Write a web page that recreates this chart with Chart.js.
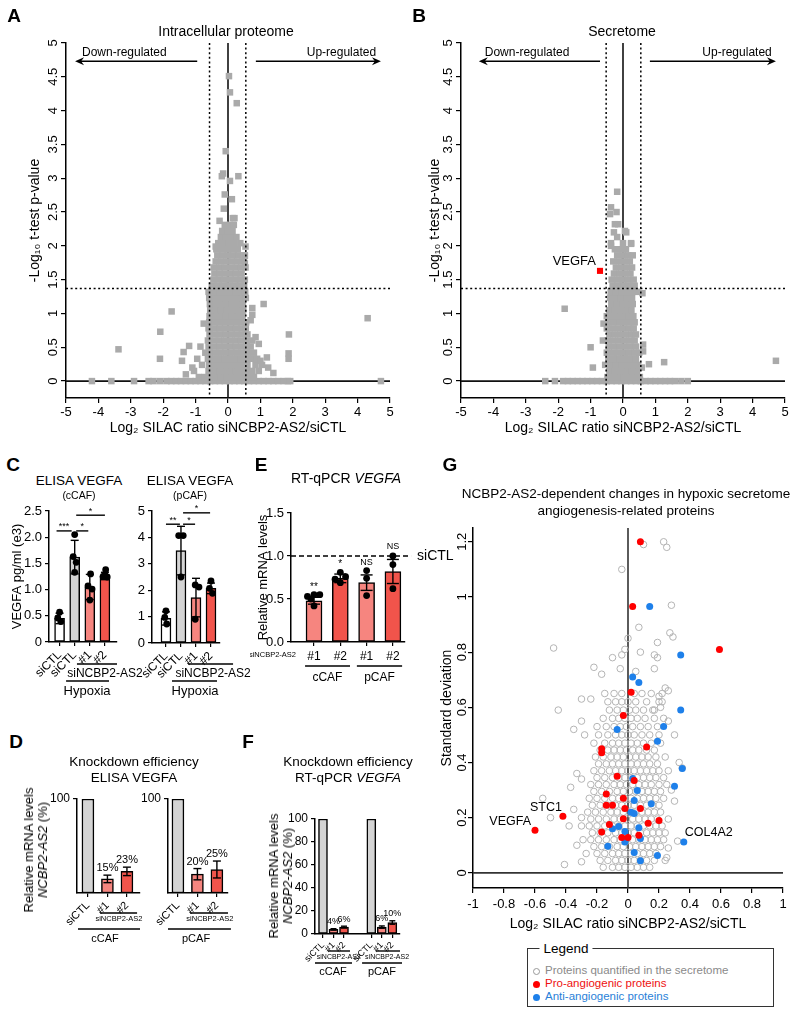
<!DOCTYPE html>
<html>
<head>
<meta charset="utf-8">
<script src="https://cdn.jsdelivr.net/npm/chart.js@4.4.1/dist/chart.umd.min.js"></script>
<style>
body { margin: 0; background: #fff; }
#fig { position: relative; width: 800px; height: 1016px; overflow: hidden; font-family: "Liberation Sans", Arial, sans-serif; color: #000; background: #fff; }
canvas { position: absolute; }
.t { position: absolute; white-space: nowrap; transform: translate(-50%, -50%); text-align: center; line-height: 16px; font-size: 13.5px; }
.L { font-weight: bold; font-size: 19px; }
.rot { transform: translate(-50%, -50%) rotate(-90deg); font-size: 13px; line-height: 14px; }
.leg { position: absolute; left: 533px; font-size: 11.5px; line-height: 13px; white-space: nowrap; }
.mk { display: inline-block; width: 7px; height: 7px; border-radius: 50%; margin-right: 5px; vertical-align: -0.5px; box-sizing: border-box; }
</style>
</head>
<body>
<div id="fig">
  <canvas id="cA" width="400" height="440" style="left:0;top:0"></canvas>
  <canvas id="cB" width="400" height="440" style="left:400px;top:0"></canvas>
  <canvas id="cC1" width="150" height="200" style="left:0;top:500px"></canvas>
  <canvas id="cC2" width="150" height="200" style="left:110px;top:500px"></canvas>
  <canvas id="cE" width="210" height="200" style="left:250px;top:500px"></canvas>
  <canvas id="cD1" width="150" height="175" style="left:0;top:780px"></canvas>
  <canvas id="cD2" width="150" height="175" style="left:100px;top:780px"></canvas>
  <canvas id="cF" width="170" height="200" style="left:260px;top:780px"></canvas>
  <canvas id="cG" width="370" height="460" style="left:430px;top:480px"></canvas>

  <div class="t L" style="left:14px;top:16px">A</div>
  <div class="t L" style="left:419px;top:16px">B</div>
  <div class="t L" style="left:13px;top:465px">C</div>
  <div class="t L" style="left:261px;top:465px">E</div>
  <div class="t L" style="left:450px;top:465px">G</div>
  <div class="t L" style="left:16px;top:742px">D</div>
  <div class="t L" style="left:248px;top:742px">F</div>

  <div class="t" style="left:226px;top:31px;font-size:14px">Intracellular proteome</div>
  <div class="t" style="left:622px;top:31px;font-size:14px">Secretome</div>
  <div class="t" style="left:79px;top:481px">ELISA VEGFA</div>
  <div class="t" style="left:79px;top:495px;font-size:10.5px">(cCAF)</div>
  <div class="t" style="left:190px;top:481px">ELISA VEGFA</div>
  <div class="t" style="left:190px;top:495px;font-size:10.5px">(pCAF)</div>
  <div class="t" style="left:346px;top:478px;font-size:14px">RT-qPCR <i>VEGFA</i></div>
  <div class="t" style="left:134px;top:770px">Knockdown efficiency<br>ELISA VEGFA</div>
  <div class="t" style="left:348px;top:770px">Knockdown efficiency<br>RT-qPCR <i>VEGFA</i></div>
  <div class="t" style="left:626px;top:502px;font-size:13.5px;line-height:17px">NCBP2-AS2-dependent changes in hypoxic secretome<br>angiogenesis-related proteins</div>
  <div class="t rot" style="left:36px;top:850px">Relative mRNA levels<br><i>NCBP2-AS2</i> (%)</div>
  <div class="t rot" style="left:281px;top:876px">Relative mRNA levels<br><i>NCBP2-AS2</i> (%)</div>

  <div style="position:absolute;left:527px;top:948px;width:247px;height:59px;border:1.5px solid #333;box-sizing:border-box"></div>
  <div class="t" style="left:566px;top:949px;font-size:13.5px;background:#fff;padding:0 4px">Legend</div>
  <div class="leg" style="top:964px;color:#8a8a8a"><span class="mk" style="border:1px solid #999"></span>Proteins quantified in the secretome</div>
  <div class="leg" style="top:977px;color:#ee1111"><span class="mk" style="background:#ff0000"></span>Pro-angiogenic proteins</div>
  <div class="leg" style="top:990px;color:#2a7fd8"><span class="mk" style="background:#1e80ea"></span>Anti-angiogenic proteins</div>
</div>

<script>
// ---------- A: intracellular proteome volcano (rows of [y, x values]) ----------
const volcanoTicksX = [-5, -4, -3, -2, -1, 0, 1, 2, 3, 4, 5];
const volcanoTicksY = [0, 0.5, 1, 1.5, 2, 2.5, 3, 3.5, 4, 4.5, 5];

const volcanoRowsA = [
  [0, [-4.2, -3.6, -2.9, -2.45, -2.3, -2.1, -1.9, -1.75, -1.6, -1.45, -1.3, -1.15, -1.0, -0.85, -0.7, -0.55, -0.4, -0.25, -0.1, 0.05, 0.2, 0.35, 0.5, 0.65, 0.8, 0.95, 1.1, 1.25, 1.4, 1.55, 1.72, 1.85, 1.92, 4.72]],
  [0.06, [-0.9, -0.72, -0.55, -0.38, -0.21, -0.04, 0.13, 0.3, 0.47, 0.62, 0.8]],
  [0.15, [-1.05, -0.6, -0.43, -0.26, -0.09, 0.08, 0.25, 0.42, 0.58, 0.75, 0.95]],
  [0.24, [-0.8, -0.58, -0.41, -0.24, -0.07, 0.1, 0.27, 0.44, 0.6, 0.85, 1.05]],
  [0.33, [-0.95, -0.62, -0.45, -0.28, -0.11, 0.06, 0.23, 0.4, 0.56, 0.72, 0.9]],
  [0.42, [-0.7, -0.56, -0.39, -0.22, -0.05, 0.12, 0.29, 0.46, 0.62, 0.8]],
  [0.51, [-0.85, -0.6, -0.43, -0.26, -0.09, 0.08, 0.25, 0.42, 0.58, 0.7]],
  [0.6, [-0.62, -0.45, -0.28, -0.11, 0.06, 0.23, 0.4, 0.56, 0.75]],
  [0.69, [-0.57, -0.4, -0.23, -0.06, 0.11, 0.28, 0.45, 0.6]],
  [0.78, [-0.6, -0.43, -0.26, -0.09, 0.08, 0.25, 0.42, 0.55]],
  [0.87, [-0.58, -0.41, -0.24, -0.07, 0.1, 0.27, 0.44, 0.56]],
  [0.96, [-0.57, -0.4, -0.23, -0.06, 0.11, 0.28, 0.45]],
  [1.05, [-0.55, -0.38, -0.21, -0.04, 0.13, 0.3, 0.47]],
  [1.14, [-0.56, -0.39, -0.22, -0.05, 0.12, 0.29, 0.46]],
  [1.23, [-0.58, -0.41, -0.24, -0.07, 0.1, 0.27, 0.44, 0.55]],
  [1.32, [-0.6, -0.43, -0.26, -0.09, 0.08, 0.25, 0.42, 0.53]],
  [1.41, [-0.5, -0.34, -0.17, 0.0, 0.17, 0.34, 0.5]],
  [1.5, [-0.45, -0.29, -0.12, 0.05, 0.22, 0.38, 0.52]],
  [1.59, [-0.42, -0.26, -0.09, 0.08, 0.25, 0.42]],
  [1.68, [-0.44, -0.27, -0.1, 0.07, 0.24, 0.4, 0.54]],
  [1.77, [-0.38, -0.22, -0.05, 0.12, 0.28, 0.45]],
  [1.86, [-0.33, -0.17, 0.0, 0.17, 0.33, 0.52]],
  [1.95, [-0.36, -0.2, -0.03, 0.14, 0.3]],
  [2.04, [-0.3, -0.14, 0.03, 0.2, 0.38]],
  [2.13, [-0.22, -0.06, 0.1, 0.26]],
  [2.22, [-0.18, -0.02, 0.14]],
  [2.31, [-0.1, 0.06, 0.18]]
];
const volcanoExtraA = [
  [0.03, 4.51], [0.06, 4.27], [0.27, 4.11], [-0.07, 3.4], [-0.15, 3.07], [-0.19, 3.03], [0.32, 3.03],
  [0.06, 2.96], [-0.1, 2.76], [0.12, 2.69], [-0.13, 2.55], [-0.26, 2.37], [0.15, 2.41], [0.2, 2.41],
  [-0.38, 1.99], [0.54, 1.99], [0.52, 1.85], [0.52, 1.74], [-1.74, 1.03], [-2.09, 0.73], [-3.38, 0.47],
  [-2.1, 0.33], [-1.42, 0.3], [-1.37, 0.43], [4.31, 0.93], [1.88, 0.69], [1.87, 0.41], [1.87, 0.33],
  [1.24, 0.2], [0.75, 1.08], [0.75, 0.98], [1.1, 1.14], [0.85, 0.65], [0.95, 0.55], [-1.2, 0.52],
  [-1.1, 0.2], [-1.3, 0.1], [1.2, 0.35], [1.4, 0.12], [-0.75, 0.85], [0.7, 0.9], [1.0, 0.3]
];

// ---------- B: secretome volcano ----------
const volcanoRowsB = [
  [0, [-2.4, -2.1, -1.85, -1.7, -1.55, -1.4, -1.25, -1.1, -0.95, -0.8, -0.65, -0.5, -0.35, -0.2, -0.05, 0.1, 0.25, 0.4, 0.55, 0.7, 0.85, 1.0, 1.15, 1.3, 1.45, 1.6, 1.8, 2.0]],
  [0.06, [-0.48, -0.31, -0.14, 0.03, 0.2, 0.37, 0.52]],
  [0.15, [-0.42, -0.25, -0.08, 0.09, 0.26, 0.43]],
  [0.24, [-0.55, -0.38, -0.21, -0.04, 0.13, 0.3, 0.47]],
  [0.33, [-0.45, -0.28, -0.11, 0.06, 0.23, 0.4]],
  [0.42, [-0.5, -0.33, -0.16, 0.01, 0.18, 0.35, 0.5]],
  [0.51, [-0.44, -0.27, -0.1, 0.07, 0.24, 0.4]],
  [0.6, [-0.48, -0.31, -0.14, 0.03, 0.2, 0.36]],
  [0.69, [-0.42, -0.25, -0.08, 0.09, 0.26, 0.4]],
  [0.78, [-0.5, -0.33, -0.16, 0.01, 0.18, 0.33]],
  [0.87, [-0.45, -0.28, -0.11, 0.06, 0.23, 0.36]],
  [0.96, [-0.5, -0.33, -0.16, 0.01, 0.18, 0.32]],
  [1.05, [-0.42, -0.25, -0.08, 0.09, 0.26]],
  [1.14, [-0.36, -0.19, -0.02, 0.15, 0.3]],
  [1.23, [-0.4, -0.23, -0.06, 0.11, 0.28]],
  [1.32, [-0.38, -0.21, -0.04, 0.13, 0.3, 0.44]],
  [1.41, [-0.32, -0.15, 0.02, 0.19, 0.36]],
  [1.5, [-0.35, -0.18, -0.01, 0.16, 0.33]],
  [1.59, [-0.28, -0.11, 0.06, 0.23]],
  [1.68, [-0.22, -0.05, 0.12, 0.28]],
  [1.77, [-0.3, -0.13, 0.04, 0.21]],
  [1.86, [-0.18, -0.01, 0.16, 0.3]],
  [1.95, [-0.25, -0.08, 0.09]],
  [2.04, [-0.37, 0.0, 0.25]]
];
const volcanoExtraB = [
  [-0.18, 2.8], [-0.37, 2.57], [-0.4, 2.47], [-0.2, 2.5], [-0.25, 2.32], [-0.15, 2.32], [-0.28, 2.2],
  [0.1, 2.2], [0.06, 2.22], [-0.18, 2.13], [-0.37, 2.0], [0.25, 2.03], [-1.8, 1.07], [-1.0, 0.5],
  [-0.93, 0.2], [1.27, 0.28], [0.8, 0.25], [0.62, 0.54], [0.62, 0.44], [4.72, 0.3], [-0.62, 0.6],
  [-0.6, 0.85], [0.58, 0.2], [0.6, 1.3]
];
const vegfaB = [[-0.71, 1.63]];

// ---------- C: ELISA VEGFA ----------
const barLabelsC = ['siCTL', 'siCTL', '#1', '#2'];
const valuesC1 = [0.45, 1.62, 1.05, 1.26];
const errC1 = [0.1, 0.32, 0.24, 0.07];
const dotsC1 = [
  [[0, 0.57], [-0.12, 0.46], [0.08, 0.39]],
  [[0, 2.05], [-0.1, 1.63], [0.1, 1.52], [0, 1.33]],
  [[0.05, 1.3], [-0.12, 1.07], [0.15, 1.01], [0, 0.8]],
  [[0.05, 1.38], [-0.12, 1.25], [0.15, 1.24], [0, 1.28]]
];
const ticksC1 = [0, 0.5, 1, 1.5, 2, 2.5];
const tickLabelsC1 = ['0', '0.5', '1.0', '1.5', '2.0', '2.5'];

const valuesC2 = [0.93, 3.5, 1.72, 2.07];
const errC2 = [0.25, 0.92, 0.73, 0.2];
const dotsC2 = [
  [[0, 1.22], [-0.08, 0.97], [0.05, 0.72]],
  [[-0.15, 4.07], [0.15, 4.07], [0, 2.5]],
  [[-0.05, 2.2], [0.2, 2.12], [-0.05, 0.9]],
  [[0, 2.35], [-0.1, 2.07], [0.1, 1.88]]
];
const ticksC2 = [0, 1, 2, 3, 4, 5];

// ---------- E: RT-qPCR VEGFA ----------
const barLabelsE = ['#1', '#2', '#1', '#2'];
const valuesE = [0.48, 0.74, 0.69, 0.82];
const errE = [0.04, 0.05, 0.09, 0.14];
const dotsE = [
  [[-0.25, 0.53], [0, 0.55], [0.22, 0.55], [0, 0.42], [-0.12, 0.5]],
  [[0, 0.81], [-0.2, 0.73], [0.2, 0.76], [0, 0.69]],
  [[0, 0.83], [0, 0.74], [0, 0.54]],
  [[0, 1.0], [0, 0.9], [0, 0.62]]
];
const sigE = ['**', '*', 'NS', 'NS'];
const sigEy = [0.64, 0.9, 0.92, 1.11];
const refE = 1.0;
const ticksE = [0, 0.5, 1, 1.5];
const tickLabelsE = ['0.0', '0.5', '1.0', '1.5'];

// ---------- D / F: knockdown efficiency ----------
const barLabelsD = ['siCTL', '#1', '#2'];
const valuesD1 = [100, 15, 23];
const errD1 = [0, 4, 4.5];
const pctD1 = ['', '15%', '23%'];
const valuesD2 = [100, 20, 25];
const errD2 = [0, 6, 9];
const pctD2 = ['', '20%', '25%'];

const barLabelsF = ['siCTL', '#1', '#2', 'siCTL', '#1', '#2'];
const valuesF = [100, 4, 6, 100, 6, 10];
const errF = [0, 0.6, 0.8, 0, 1, 1.5];
const pctF = ['', '4%', '6%', '', '6%', '10%'];
const ticksF = [0, 20, 40, 60, 80, 100];

// ---------- G: angiogenesis-related proteins ----------
const gTicksX = [-1, -0.8, -0.6, -0.4, -0.2, 0, 0.2, 0.4, 0.6, 0.8, 1];
const gTicksY = [0, 0.2, 0.4, 0.6, 0.8, 1, 1.2];
const gGrayRows = [
  [0.02, [-0.16, -0.1, -0.06, -0.02, 0.02, 0.06, 0.1, 0.14]],
  [0.045, [-0.18, -0.13, -0.08, -0.04, 0, 0.04, 0.08, 0.12, 0.17, 0.24]],
  [0.07, [-0.27, -0.2, -0.15, -0.1, -0.06, -0.02, 0.02, 0.06, 0.1, 0.14, 0.18]],
  [0.095, [-0.22, -0.17, -0.12, -0.07, -0.03, 0.01, 0.05, 0.09, 0.13, 0.17, 0.21]],
  [0.12, [-0.29, -0.24, -0.19, -0.14, -0.09, -0.05, -0.01, 0.03, 0.07, 0.11, 0.15, 0.19, 0.23]],
  [0.145, [-0.23, -0.18, -0.13, -0.08, -0.04, 0, 0.04, 0.08, 0.12, 0.16, 0.2, 0.24]],
  [0.17, [-0.3, -0.25, -0.2, -0.15, -0.1, -0.06, -0.02, 0.02, 0.06, 0.1, 0.14, 0.18, 0.22]],
  [0.195, [-0.24, -0.19, -0.14, -0.09, -0.05, -0.01, 0.03, 0.07, 0.11, 0.15, 0.19, 0.26]],
  [0.22, [-0.26, -0.21, -0.16, -0.11, -0.07, -0.03, 0.01, 0.05, 0.09, 0.13, 0.17, 0.21]],
  [0.245, [-0.23, -0.18, -0.13, -0.08, -0.04, 0, 0.04, 0.08, 0.12, 0.16, 0.2]],
  [0.27, [-0.25, -0.2, -0.15, -0.1, -0.06, -0.02, 0.02, 0.06, 0.1, 0.14, 0.18, 0.23]],
  [0.295, [-0.22, -0.17, -0.12, -0.07, -0.03, 0.01, 0.05, 0.09, 0.13, 0.17, 0.21]],
  [0.32, [-0.24, -0.19, -0.14, -0.09, -0.05, -0.01, 0.03, 0.07, 0.11, 0.15, 0.2, 0.25]],
  [0.345, [-0.2, -0.15, -0.1, -0.06, -0.02, 0.02, 0.06, 0.1, 0.14, 0.18, 0.23]],
  [0.37, [-0.22, -0.17, -0.12, -0.08, -0.04, 0, 0.04, 0.08, 0.12, 0.16, 0.2, 0.26]],
  [0.395, [-0.19, -0.14, -0.1, -0.06, -0.02, 0.02, 0.06, 0.1, 0.14, 0.19]],
  [0.42, [-0.21, -0.16, -0.11, -0.07, -0.03, 0.01, 0.05, 0.09, 0.13, 0.18, 0.24]],
  [0.445, [-0.18, -0.13, -0.09, -0.05, -0.01, 0.03, 0.07, 0.12, 0.17]],
  [0.47, [-0.22, -0.15, -0.1, -0.06, -0.02, 0.02, 0.06, 0.1, 0.15, 0.21]],
  [0.5, [-0.19, -0.13, -0.08, -0.04, 0, 0.04, 0.09, 0.14, 0.2]],
  [0.53, [-0.2, -0.14, -0.09, -0.05, -0.01, 0.03, 0.08, 0.13, 0.19]],
  [0.56, [-0.16, -0.1, -0.06, -0.02, 0.02, 0.06, 0.11, 0.17, 0.23]],
  [0.59, [-0.12, -0.07, -0.03, 0.01, 0.05, 0.1, 0.16]],
  [0.62, [-0.13, -0.08, -0.04, 0.0, 0.05, 0.12, 0.2]],
  [0.65, [-0.09, -0.04, 0.04, 0.09, 0.15, 0.22]]
];
const gGrayExtra = [
  [-0.55, 0.27], [-0.5, 0.2], [-0.37, 0.31], [-0.35, 0.23], [-0.38, 0.17], [-0.41, 0.03], [-0.3, 0.04],
  [-0.33, 0.1], [-0.3, 0.2], [-0.33, 0.36], [-0.3, 0.34], [0.32, 0.115], [0.26, 0.09], [0.25, 0.055],
  [0.28, 0.3], [0.3, 0.26], [0.33, 0.4], [0.35, 0.38], [0.1, 1.19], [0.23, 1.2], [0.25, 1.18],
  [-0.04, 1.1], [0.28, 0.97], [0.07, 0.89], [0.27, 0.87], [0.29, 0.855], [-0.48, 0.815], [0.19, 0.835],
  [0.08, 0.8], [0.17, 0.79], [0.19, 0.78], [-0.02, 0.81], [-0.04, 0.79], [-0.1, 0.78], [0.0, 0.85],
  [-0.22, 0.745], [-0.17, 0.72], [-0.05, 0.74], [0.05, 0.73], [0.17, 0.74], [-0.45, 0.59], [-0.3, 0.63],
  [0.24, 0.67], [0.26, 0.66], [0.2, 0.64], [0.21, 0.6], [-0.24, 0.63], [-0.15, 0.65], [0.17, 0.59],
  [0.22, 0.62], [-0.35, 0.52], [-0.3, 0.55], [-0.28, 0.5], [0.3, 0.5], [0.26, 0.55]
];
const gRed = [
  [0.08, 1.2], [0.03, 0.965], [0.59, 0.81], [0.02, 0.655], [-0.03, 0.57], [-0.17, 0.45], [-0.17, 0.435],
  [0.12, 0.456], [-0.07, 0.35], [0.04, 0.335], [-0.14, 0.286], [-0.03, 0.27], [-0.14, 0.245], [-0.1, 0.245],
  [-0.02, 0.233], [0.08, 0.233], [-0.03, 0.196], [0.2, 0.19], [0.13, 0.18], [-0.12, 0.175], [-0.17, 0.148],
  [-0.04, 0.128], [0.0, 0.128], [0.07, 0.136], [-0.42, 0.205], [-0.6, 0.154]
];
const gBlue = [
  [0.14, 0.965], [0.34, 0.79], [0.03, 0.71], [0.07, 0.69], [0.34, 0.59], [0.23, 0.53], [-0.07, 0.52],
  [0.19, 0.477], [0.35, 0.378], [0.3, 0.314], [0.03, 0.342], [0.06, 0.298], [0.04, 0.262], [0.15, 0.25],
  [0.02, 0.22], [0.04, 0.215], [-0.1, 0.16], [-0.06, 0.168], [0.07, 0.163], [-0.02, 0.15], [0.08, 0.124],
  [-0.02, 0.112], [-0.13, 0.096], [0.04, 0.074], [0.19, 0.063], [0.08, 0.044], [0.36, 0.112]
];
const gNames = [
  { t: 'VEGFA', x: -0.6, y: 0.154, align: 'right', dx: -4, dy: -9 },
  { t: 'STC1', x: -0.42, y: 0.205, align: 'right', dx: -1, dy: -9 },
  { t: 'COL4A2', x: 0.36, y: 0.112, align: 'left', dx: 1, dy: -9 }
];

const WHITE = '#ffffff', GREY = '#d4d4d4', SALMON = '#f6857f', RED = '#f1544b';
const FONT = '"Liberation Sans", Arial, sans-serif';

Chart.defaults.font.family = FONT;
Chart.defaults.color = '#000';
Chart.defaults.animation = false;
Chart.defaults.plugins.legend.display = false;
Chart.defaults.plugins.tooltip.enabled = false;

const rowsToPts = rows => rows.flatMap(([y, xs]) => xs.map(x => ({ x, y })));
const pairsToPts = pairs => pairs.map(([x, y]) => ({ x, y }));

function seg(ctx, x1, y1, x2, y2) {
  ctx.beginPath(); ctx.moveTo(x1, y1); ctx.lineTo(x2, y2); ctx.stroke();
}
function label(ctx, s, x, y, size, align = 'center', color = '#000', style = '') {
  ctx.font = style + size + 'px ' + FONT;
  ctx.fillStyle = color; ctx.textAlign = align; ctx.textBaseline = 'middle';
  ctx.fillText(s, x, y);
}
function arrow(ctx, x1, x2, y) {
  const d = Math.sign(x2 - x1);
  seg(ctx, x1, y, x2 - d * 5, y);
  ctx.beginPath(); ctx.moveTo(x2, y); ctx.lineTo(x2 - d * 9, y - 4); ctx.lineTo(x2 - d * 6, y); ctx.lineTo(x2 - d * 9, y + 4);
  ctx.closePath(); ctx.fill();
}

// y tick labels rotated like the original figure
const rotY = (size, off) => ({
  id: 'rotY',
  afterDraw(chart) {
    const s = chart.scales.y, ctx = chart.ctx;
    s.ticks.forEach(t => {
      ctx.save();
      ctx.translate(chart.chartArea.left - off, s.getPixelForValue(t.value));
      ctx.rotate(-Math.PI / 2);
      label(ctx, t.label, 0, 0, size);
      ctx.restore();
    });
  }
});

function axis(o) {
  const a = {
    type: 'linear', min: o.min, max: o.max, offset: false,
    afterBuildTicks: s => { s.ticks = o.ticks.map(v => ({ value: v })); },
    ticks: { autoSkip: false, display: o.showTicks !== false, font: { size: o.font || 12 }, padding: o.pad ?? 3,
      minRotation: o.rot || 0, maxRotation: o.rot || 0 },
    grid: { display: true, drawOnChartArea: false, drawTicks: true, tickLength: o.tick ?? 4, color: '#000', lineWidth: 1.2, offset: false },
    border: { display: true, color: '#000', width: 1.5 },
    title: { display: !!o.title, text: o.title || '', font: { size: o.titleSize || 14 }, padding: o.titlePad || 0 }
  };
  if (o.labels) a.ticks.callback = (v, i) => o.labels[i];
  if (o.w) a.afterFit = s => { s.width = o.w; };
  if (o.h) a.afterFit = s => { s.height = o.h; };
  return a;
}

// ---------- volcano plots ----------
function volcanoDecor(g) {
  return {
    id: 'volcanoDecor',
    beforeDatasetsDraw(chart) {
      const { ctx, chartArea: a } = chart, X = chart.scales.x, Y = chart.scales.y;
      ctx.save(); ctx.strokeStyle = '#111'; ctx.lineWidth = 1.6;
      seg(ctx, a.left, Y.getPixelForValue(0), a.right, Y.getPixelForValue(0));
      seg(ctx, X.getPixelForValue(0), a.top, X.getPixelForValue(0), a.bottom);
      ctx.restore();
    },
    afterDatasetsDraw(chart) {
      const { ctx, chartArea: a } = chart, X = chart.scales.x, Y = chart.scales.y;
      ctx.save(); ctx.strokeStyle = '#000'; ctx.fillStyle = '#000'; ctx.lineWidth = 1.5;
      ctx.setLineDash([2, 2.6]);
      [-g.cutL, g.cutR].forEach(v => seg(ctx, X.getPixelForValue(v), a.top, X.getPixelForValue(v), a.bottom));
      seg(ctx, a.left, Y.getPixelForValue(g.pcut), a.right + 2, Y.getPixelForValue(g.pcut));
      ctx.setLineDash([]);
      ctx.lineWidth = 1.3;
      const ya = Y.getPixelForValue(4.73);
      arrow(ctx, X.getPixelForValue(g.arrL[0]), X.getPixelForValue(g.arrL[1]), ya);
      arrow(ctx, X.getPixelForValue(g.arrR[0]), X.getPixelForValue(g.arrR[1]), ya);
      const yt = Y.getPixelForValue(4.86);
      label(ctx, 'Down-regulated', X.getPixelForValue(g.txtL), yt, 12);
      label(ctx, 'Up-regulated', X.getPixelForValue(g.txtR), yt, 12);
      if (g.hit) {
        const [hx, hy] = g.hit[0];
        label(ctx, 'VEGFA', X.getPixelForValue(hx) - 4, Y.getPixelForValue(hy) - 9, 13, 'right');
      }
      ctx.restore();
    }
  };
}

function volcano(id, pts, g) {
  const datasets = [{ data: pts, backgroundColor: '#aaaaaa', pointStyle: 'rect', pointRadius: 4.6, borderWidth: 0, order: 1 }];
  if (g.hit) datasets.push({ data: pairsToPts(g.hit), backgroundColor: '#ff0000', pointStyle: 'rect', pointRadius: 4.3, borderWidth: 0, order: 0 });
  new Chart(document.getElementById(id), {
    type: 'scatter',
    data: { datasets },
    options: {
      responsive: false, devicePixelRatio: 1,
      layout: { padding: { top: 43, right: g.padR, left: 0, bottom: 0 } },
      scales: {
        x: axis({ min: -5, max: 5, ticks: volcanoTicksX, labels: volcanoTicksX.map(String), h: 42, font: 13, pad: 2, tick: 5,
          title: 'Log\u2082 SILAC ratio siNCBP2-AS2/siCTL', titlePad: { top: 0, bottom: 3.6 } }),
        y: axis({ min: -0.25, max: 5, ticks: volcanoTicksY, labels: volcanoTicksY.map(String), w: g.yW, showTicks: false, tick: 5,
          title: '-Log\u2081\u2080 t-test p-value', titlePad: { top: 26.6, bottom: 0 } })
      }
    },
    plugins: [rotY(13, 13), volcanoDecor(g)]
  });
}

volcano('cA', rowsToPts(volcanoRowsA).concat(pairsToPts(volcanoExtraA)),
  { padR: 10, yW: 66, cutL: 0.57, cutR: 0.55, pcut: 1.37, arrL: [-0.95, -4.72], arrR: [0.86, 4.72], txtL: -3.2, txtR: 3.5 });
volcano('cB', rowsToPts(volcanoRowsB).concat(pairsToPts(volcanoExtraB)),
  { padR: 15, yW: 61, cutL: 0.52, cutR: 0.55, pcut: 1.37, arrL: [-0.71, -4.45], arrR: [0.83, 4.72], txtL: -2.96, txtR: 3.52, hit: vegfaB });

// ---------- bar panels ----------
function barDecor(c) {
  return {
    id: 'barDecor',
    afterDatasetsDraw(chart) {
      const { ctx, chartArea: a } = chart, X = chart.scales.x, Y = chart.scales.y;
      ctx.save(); ctx.strokeStyle = '#000'; ctx.lineWidth = 1.4;
      c.pos.forEach((p, i) => {
        const e = c.err[i], px = X.getPixelForValue(p);
        if (e) {
          const lo = Y.getPixelForValue(c.values[i] - e), hi = Y.getPixelForValue(c.values[i] + e);
          seg(ctx, px, lo, px, hi); seg(ctx, px - c.cap, hi, px + c.cap, hi); seg(ctx, px - c.cap, lo, px + c.cap, lo);
        }
        if (c.pct && c.pct[i]) label(ctx, c.pct[i], px, Y.getPixelForValue(c.values[i] + e) - 7, c.pctSize || 11);
      });
      (c.sig || []).forEach(s => {
        const yy = Y.getPixelForValue(s.y), x1 = X.getPixelForValue(s.x1), x2 = X.getPixelForValue(s.x2);
        seg(ctx, x1, yy, x2, yy);
        label(ctx, s.t, (x1 + x2) / 2, yy - 4, 9);
      });
      (c.groups || []).forEach(gr => {
        if (gr.x1 != null) seg(ctx, X.getPixelForValue(gr.x1), a.bottom + gr.dy, X.getPixelForValue(gr.x2), a.bottom + gr.dy);
        label(ctx, gr.text, X.getPixelForValue(gr.tx), a.bottom + gr.tdy, gr.size);
      });
      if (c.extra) c.extra(ctx, a, X, Y);
      ctx.restore();
    }
  };
}

function barPanel(id, c) {
  const dots = [];
  (c.dots || []).forEach((list, i) => list.forEach(([dx, y]) => dots.push({ x: c.pos[i] + dx, y })));
  const datasets = [{
    type: 'bar', data: c.pos.map((x, i) => ({ x, y: c.values[i] })),
    backgroundColor: c.colors, borderColor: '#000', borderWidth: 1.5, borderSkipped: false, barThickness: c.barW, order: 1
  }];
  if (dots.length) datasets.push({ type: 'line', data: dots, showLine: false, pointRadius: 3.4,
    pointBackgroundColor: '#000', pointBorderColor: '#000', pointBorderWidth: 0, order: 0 });
  new Chart(document.getElementById(id), {
    type: 'bar',
    data: { datasets },
    options: {
      responsive: false, devicePixelRatio: 1,
      layout: { padding: { top: c.padT, right: c.padR, left: 0, bottom: 0 } },
      scales: {
        x: axis({ min: c.xMin, max: c.xMax, ticks: c.pos, labels: c.labels, h: c.xH, rot: c.rot, font: c.xFont || 12, pad: c.xPad ?? 2 }),
        y: axis({ min: 0, max: c.yMax, ticks: c.yTicks, labels: c.yLabels, w: c.yW, font: c.yFont || 13,
          title: c.yTitle, titleSize: 13, titlePad: { top: c.yTitlePad || 0, bottom: 0 } })
      }
    },
    plugins: [barDecor(c)]
  });
}

barPanel('cC1', {
  pos: [0, 1, 2, 3], labels: barLabelsC, values: valuesC1, err: errC1, dots: dotsC1,
  colors: [WHITE, GREY, SALMON, RED], barW: 10, cap: 4, rot: 45,
  xMin: -0.7, xMax: 3.8, xH: 58, yW: 49, padT: 11, padR: 33,
  yMax: 2.5, yTicks: ticksC1, yLabels: tickLabelsC1, yTitle: 'VEGFA pg/ml (e3)', yTitlePad: 10,
  sig: [{ x1: -0.2, x2: 0.8, y: 2.12, t: '***' }, { x1: 1.1, x2: 1.9, y: 2.12, t: '*' }, { x1: 1.1, x2: 3.0, y: 2.42, t: '*' }],
  groups: [{ x1: 1.15, x2: 3.8, dy: 22, text: 'siNCBP2-AS2', tx: 3.0, tdy: 32, size: 12 },
           { x1: 0.43, x2: 3.27, dy: 39, text: 'Hypoxia', tx: 1.82, tdy: 49, size: 13 }]
});

barPanel('cC2', {
  pos: [0, 1, 2, 3], labels: barLabelsC, values: valuesC2, err: errC2, dots: dotsC2,
  colors: [WHITE, GREY, SALMON, RED], barW: 10, cap: 4, rot: 45,
  xMin: -0.93, xMax: 3.6, xH: 57, yW: 42, padT: 11, padR: 40,
  yMax: 5, yTicks: ticksC2, yLabels: ticksC2.map(String),
  sig: [{ x1: 0.0, x2: 0.93, y: 4.5, t: '**' }, { x1: 1.14, x2: 1.94, y: 4.5, t: '*' }, { x1: 1.14, x2: 2.94, y: 4.93, t: '*' }],
  groups: [{ x1: 1.47, x2: 4.47, dy: 21, text: 'siNCBP2-AS2', tx: 3.14, tdy: 31, size: 12 },
           { x1: 0.4, x2: 3.4, dy: 38, text: 'Hypoxia', tx: 1.94, tdy: 48, size: 13 }]
});

barPanel('cE', {
  pos: [0, 1, 2, 3], labels: barLabelsE, values: valuesE, err: errE, dots: dotsE,
  colors: [SALMON, RED, SALMON, RED], barW: 16, cap: 6, rot: 0,
  xMin: -0.875, xMax: 3.46, xH: 58, yW: 41, padT: 13, padR: 55, xPad: 3,
  yMax: 1.5, yTicks: ticksE, yLabels: tickLabelsE, yTitle: 'Relative mRNA levels', yTitlePad: 5.2,
  groups: [{ x1: -0.34, x2: 1.37, dy: 24, text: 'cCAF', tx: 0.51, tdy: 36, size: 12 },
           { x1: 1.63, x2: 3.35, dy: 24, text: 'pCAF', tx: 2.49, tdy: 36, size: 12 }],
  extra(ctx, a, X, Y) {
    const yr = Y.getPixelForValue(refE), xEnd = X.getPixelForValue(3.69);
    ctx.lineWidth = 1.6; ctx.setLineDash([5, 3]);
    seg(ctx, a.left, yr, xEnd, yr);
    ctx.setLineDash([]);
    label(ctx, 'siCTL', xEnd + 6, yr, 14, 'left');
    sigE.forEach((s, i) => label(ctx, s, X.getPixelForValue(i), Y.getPixelForValue(sigEy[i]), s === 'NS' ? 9 : 10));
    label(ctx, 'siNCBP2-AS2', a.left + 5, a.bottom + 13, 7.5, 'right');
  }
});

barPanel('cD1', {
  pos: [0, 1, 2], labels: barLabelsD, values: valuesD1, err: errD1, pct: pctD1,
  colors: [GREY, SALMON, RED], barW: 12, cap: 4, rot: 45, xFont: 11,
  xMin: -0.56, xMax: 2.67, xH: 62, yW: 77, padT: 19, padR: 10,
  yMax: 100, yTicks: [100], yLabels: ['100'], yFont: 12,
  groups: [{ x1: 0.62, x2: 2.52, dy: 20, text: 'siNCBP2-AS2', tx: 1.59, tdy: 26, size: 7.5 },
           { x1: -0.51, x2: 2.67, dy: 36, text: 'cCAF', tx: 0.88, tdy: 46, size: 11 }]
});

barPanel('cD2', {
  pos: [0, 1, 2], labels: barLabelsD, values: valuesD2, err: errD2, pct: pctD2,
  colors: [GREY, SALMON, RED], barW: 12, cap: 4, rot: 45, xFont: 11,
  xMin: -0.51, xMax: 2.57, xH: 62, yW: 68, padT: 19, padR: 22,
  yMax: 100, yTicks: [100], yLabels: ['100'], yFont: 12,
  groups: [{ x1: 0.62, x2: 2.57, dy: 20, text: 'siNCBP2-AS2', tx: 1.64, tdy: 26, size: 7.5 },
           { x1: -0.51, x2: 2.72, dy: 36, text: 'pCAF', tx: 0.93, tdy: 46, size: 11 }]
});

barPanel('cF', {
  pos: [0, 1, 2, 4.6, 5.6, 6.6], labels: barLabelsF, values: valuesF, err: errF, pct: pctF, pctSize: 9,
  colors: [GREY, SALMON, RED, GREY, SALMON, RED], barW: 9, cap: 3, rot: 45,
  xMin: -0.76, xMax: 7.33, xH: 46, yW: 55, padT: 39, padR: 30, xFont: 9,
  yMax: 100, yTicks: ticksF, yLabels: ticksF.map(String), yFont: 12,
  groups: [{ x1: 0.48, x2: 2.57, dy: 17, text: 'siNCBP2-AS2', tx: 1.5, tdy: 23, size: 7 },
           { x1: -0.76, x2: 2.76, dy: 29, text: 'cCAF', tx: 0.95, tdy: 38, size: 11 },
           { x1: 5.05, x2: 7.33, dy: 17, text: 'siNCBP2-AS2', tx: 6.1, tdy: 23, size: 7 },
           { x1: 3.72, x2: 7.52, dy: 29, text: 'pCAF', tx: 5.62, tdy: 38, size: 11 }]
});

// ---------- G ----------
new Chart(document.getElementById('cG'), {
  type: 'scatter',
  data: {
    datasets: [
      { data: pairsToPts(gRed), backgroundColor: '#ff0000', pointRadius: 3.5, borderWidth: 0, order: 0 },
      { data: pairsToPts(gBlue), backgroundColor: '#1e80ea', pointRadius: 3.5, borderWidth: 0, order: 0 },
      { data: rowsToPts(gGrayRows).concat(pairsToPts(gGrayExtra)), backgroundColor: 'rgba(0,0,0,0)',
        borderColor: '#b4b4b4', borderWidth: 1, pointRadius: 3.3, order: 1 }
    ]
  },
  options: {
    responsive: false, devicePixelRatio: 1,
    layout: { padding: { top: 48, right: 17, left: 0, bottom: 0 } },
    scales: {
      x: axis({ min: -1, max: 1, ticks: gTicksX, labels: gTicksX.map(String), h: 52, font: 13, pad: 3.5, tick: 5,
        title: 'Log\u2082 SILAC ratio siNCBP2-AS2/siCTL', titlePad: { top: 0, bottom: 7.6 } }),
      y: axis({ min: -0.055, max: 1.25, ticks: gTicksY, labels: gTicksY.map(String), w: 43, showTicks: false, tick: 5,
        title: 'Standard deviation', titlePad: { top: 8.6, bottom: 0 } })
    }
  },
  plugins: [rotY(13, 11), {
    id: 'gDecor',
    beforeDatasetsDraw(chart) {
      const { ctx, chartArea: a } = chart, X = chart.scales.x, Y = chart.scales.y;
      ctx.save(); ctx.strokeStyle = '#333'; ctx.lineWidth = 1.6;
      seg(ctx, X.getPixelForValue(0), a.top, X.getPixelForValue(0), a.bottom);
      seg(ctx, a.left, Y.getPixelForValue(0), a.right, Y.getPixelForValue(0));
      ctx.restore();
    },
    afterDatasetsDraw(chart) {
      const { ctx } = chart, X = chart.scales.x, Y = chart.scales.y;
      ctx.save();
      gNames.forEach(n => label(ctx, n.t, X.getPixelForValue(n.x) + n.dx, Y.getPixelForValue(n.y) + n.dy, 12.5, n.align));
      ctx.restore();
    }
  }]
});
</script>
</body>
</html>
